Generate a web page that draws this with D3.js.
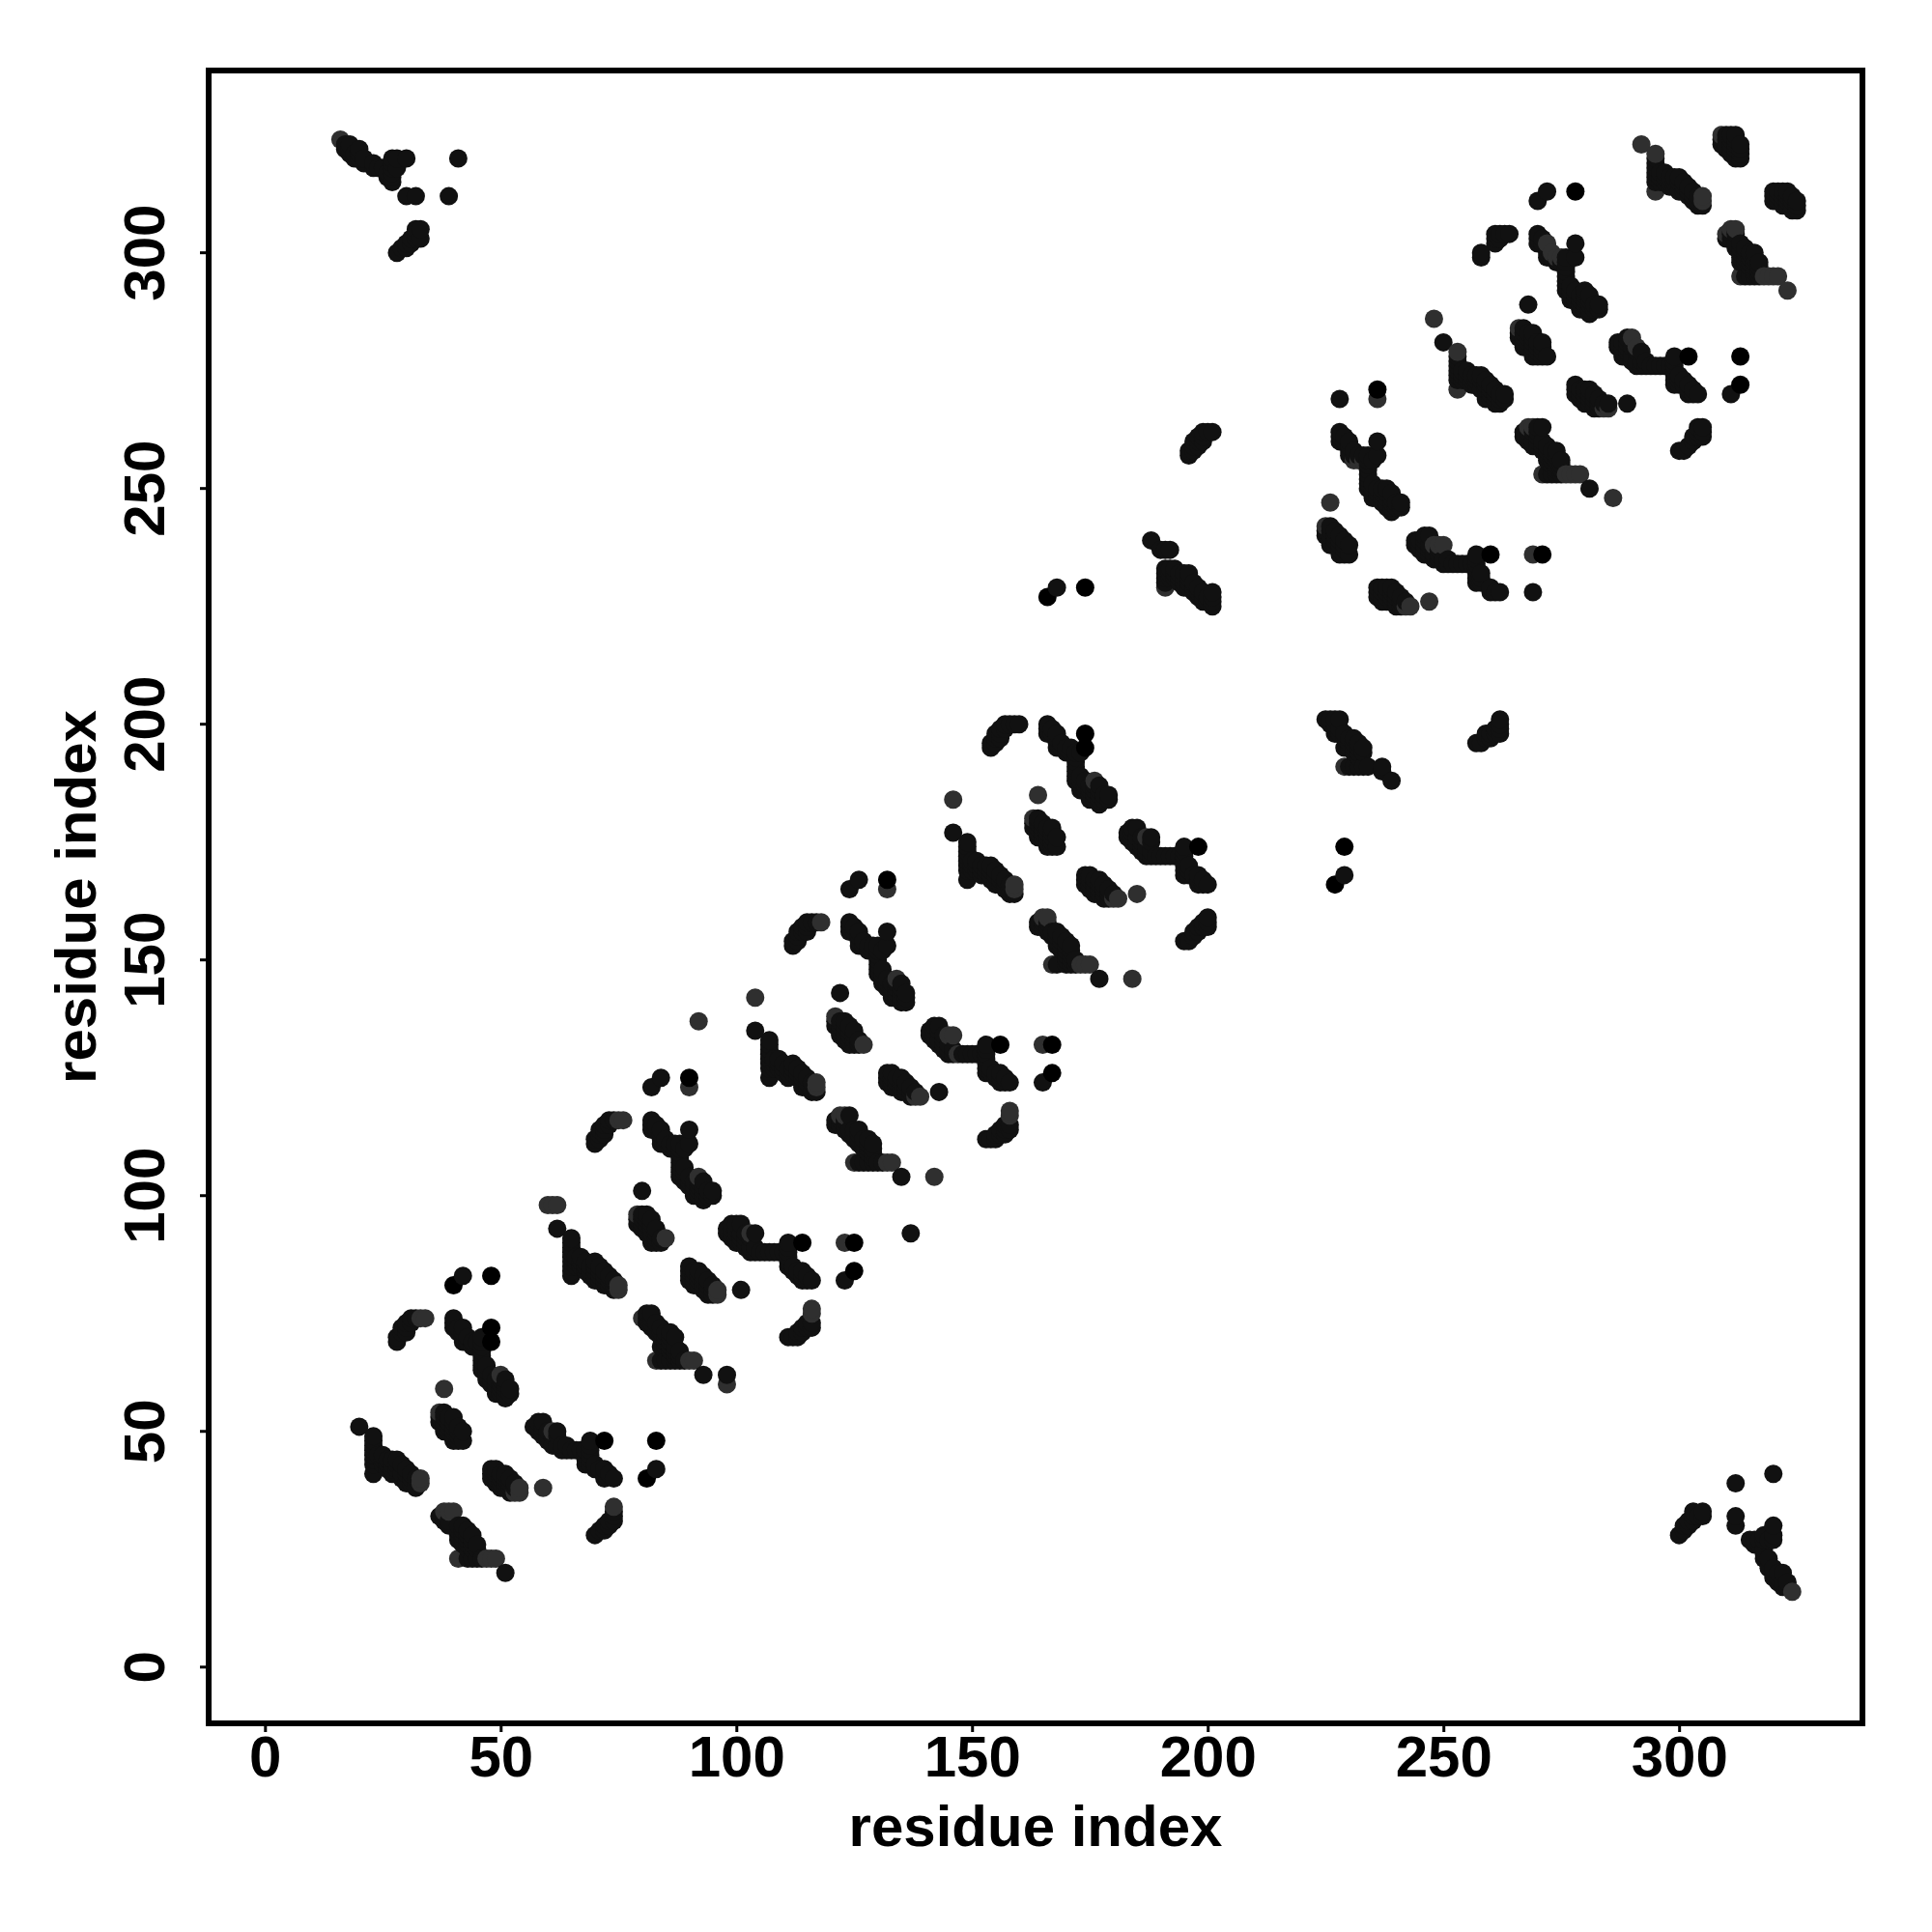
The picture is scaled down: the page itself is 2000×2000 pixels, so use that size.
<!DOCTYPE html>
<html><head><meta charset="utf-8">
<script src="https://cdn.jsdelivr.net/npm/d3@7/dist/d3.min.js"></script>
<style>html,body{margin:0;background:#fff}</style></head>
<body><svg id="c" width="2000" height="2000"></svg>
<script>
const xTickValues=[0,50,100,150,200,250,300];
const yTickValues=[0,50,100,150,200,250,300];
const axisTitle="residue index";
const block1=[[20,51],[23,49],[23,48],[23,47],[23,46],[23,45],[23,44],[23,43],[23,41],[24,45],[25,45],[25,44],[25,43],[26,44],[26,43],[26,42],[27,44],[27,43],[27,42],[27,41],[28,44],[28,43],[28,42],[29,43],[29,41],[29,40],[30,42],[30,41],[30,39],[31,41],[31,40],[31,39],[32,40],[32,38],[33,40],[33,39],
[38,59],[37,54],[37,53],[37,52],[38,54],[38,53],[38,52],[38,51],[38,50],[39,53],[39,52],[39,51],[39,50],[40,53],[40,52],[40,51],[40,50],[40,49],[40,48],[41,51],[41,50],[41,49],[41,48],[42,50],[42,48],
[48,42],[48,41],[48,40],[49,42],[49,41],[49,40],[49,39],[50,41],[50,40],[50,39],[50,38],[51,41],[51,40],[51,39],[51,38],[52,40],[52,39],[52,38],[52,37],[53,39],[53,38],[53,37],[54,38],[54,37],[59,38],
[38,33],[39,33],[40,33],[37,32],[38,32],[38,31],[39,31],[39,30],[41,30],[42,30],[41,29],[42,29],[43,29],[41,28],[42,28],[43,28],[44,28],[41,27],[42,27],[43,27],[44,27],[42,26],[43,26],[44,26],[45,26],[43,25],[44,25],[45,25],[41,23],[43,23],[44,23],[45,23],[46,23],[47,23],[48,23],[49,23],[51,20],
[28,69],[28,70],[29,71],[29,72],[30,71],[30,72],[30,73],[31,73],[31,74],[32,74],[33,74],[34,74]];
const block2=[[40,74],[40,73],[40,72],[41,72],[41,71],[42,72],[42,71],[42,70],[42,69],[43,70],[43,69],[44,69],[44,68],[45,69],[46,70],[46,69],[46,68],[46,67],[46,66],[46,65],[46,64],[46,63],[47,64],[47,63],[47,62],[47,61],[48,72],[48,69],[48,62],[48,61],[48,60],[49,61],[49,60],[49,59],[49,58],[50,62],[50,61],[50,60],[50,59],[50,58],[51,61],[51,60],[51,59],[51,58],[51,57],[52,59],[52,58],[40,81],[42,83],[48,83],
[57,51],[58,52],[58,51],[58,50],[59,52],[59,51],[59,50],[59,49],[60,50],[60,49],[60,48],[61,50],[61,49],[61,47],[62,50],[62,49],[62,47],[63,47],[63,46],[64,47],[64,46],[65,46],[66,46],[67,46],[68,46],[68,45],[68,44],[68,43],[69,48],[69,47],[69,46],[69,45],[69,44],[69,43],[70,43],[70,42],[71,42],[72,48],[72,42],[72,41],[72,40],[73,41],[74,40],[83,48],[83,42],[81,40],
[70,28],[71,29],[72,29],[72,30],[73,30],[73,31],[74,31],[74,32],[74,33],[74,34]];
const block3=[[104,142],[104,135],[107,133],[107,132],[107,131],[107,130],[107,129],[107,128],[107,127],[107,125],[108,129],[108,128],[108,127],[109,129],[109,128],[109,127],[110,128],[110,127],[110,126],[111,127],[111,126],[111,125],[112,128],[112,127],[112,126],[113,127],[113,126],[113,125],[114,126],[114,125],[114,123],[115,125],[115,124],[115,123],[116,124],[116,122],[117,124],[117,123],[117,122],[92,137],
[80,101],[79,96],[79,95],[79,94],[80,96],[80,95],[80,94],[80,93],[81,96],[81,95],[81,94],[81,93],[81,92],[82,95],[82,94],[82,93],[82,92],[82,91],[82,90],[83,93],[83,92],[83,91],[83,90],[84,91],[84,90],[85,91],
[90,85],[90,84],[90,83],[90,82],[91,84],[91,83],[91,82],[91,81],[92,84],[92,83],[92,82],[92,81],[93,83],[93,82],[93,81],[93,80],[94,82],[94,81],[94,80],[94,79],[95,81],[95,80],[95,79],[96,80],[96,79],[101,80],
[80,74],[81,75],[81,74],[81,73],[82,75],[82,74],[82,73],[82,72],[83,73],[83,71],[84,72],[84,71],[84,70],[84,68],[85,71],[85,70],[85,69],[85,68],[86,71],[86,70],[86,69],[86,68],[86,67],[87,70],[87,68],[87,67],[87,66],[88,67],[88,66],[83,65],[84,65],[85,65],[86,65],[87,65],[88,65],[89,65],[90,65],[91,65],[93,62],[98,62],[98,60],
[60,98],[61,98],[62,98],[62,93],[65,91],[65,90],[65,89],[65,88],[65,87],[65,86],[65,85],[65,84],[65,83],[66,87],[66,86],[66,85],[67,87],[67,86],[67,85],[68,86],[68,85],[68,84],[69,85],[69,84],[69,83],[70,86],[70,85],[70,84],[70,83],[70,82],[71,85],[71,84],[71,83],[71,82],[72,84],[72,83],[72,82],[72,81],[73,83],[73,82],[73,81],[74,82],[74,81],[74,80],[75,81],[75,80],
[70,111],[70,112],[71,112],[71,113],[71,114],[72,113],[72,114],[72,115],[73,115],[73,116],[74,116],[75,116],[76,116]];
const block4=[[82,116],[82,115],[82,114],[83,115],[83,114],[84,114],[84,113],[84,112],[84,111],[85,112],[85,111],[86,111],[86,110],[87,111],[87,110],[88,111],[88,110],[88,109],[88,108],[88,107],[88,106],[88,105],[88,104],[89,110],[89,106],[89,105],[89,104],[89,103],[90,114],[90,111],[90,104],[90,103],[90,102],[91,103],[91,102],[91,101],[91,100],[92,104],[92,103],[92,102],[92,101],[92,100],[93,103],[93,102],[93,101],[93,100],[93,99],[94,101],[94,100],[95,101],[95,100],[82,123],[84,125],[90,125],[90,123],
[98,93],[98,92],[99,94],[99,93],[99,92],[99,91],[100,94],[100,93],[100,92],[100,91],[100,90],[101,94],[101,92],[101,91],[101,90],[102,92],[102,91],[102,90],[102,89],[103,92],[103,91],[103,89],[103,88],[104,92],[104,89],[104,88],[105,88],[106,88],[107,88],[108,88],[109,88],[110,88],[111,90],[111,89],[111,88],[111,87],[111,86],[111,85],[112,85],[112,84],[113,84],[113,83],[114,90],[114,84],[114,83],[114,82],[115,83],[115,82],[116,82],[123,90],[125,90],[125,84],[123,82],[137,92],
[111,70],[112,70],[113,70],[113,71],[114,71],[114,72],[115,72],[115,73],[116,72],[116,73],[116,75],[116,76]];
const block5=[[122,143],[121,138],[121,137],[121,136],[122,137],[122,136],[122,135],[122,134],[123,137],[123,136],[123,135],[123,134],[123,133],[124,136],[124,135],[124,134],[124,133],[124,132],[125,135],[125,134],[125,133],[125,132],[126,133],[126,132],[127,132],
[132,126],[132,125],[132,124],[133,126],[133,125],[133,124],[133,123],[134,125],[134,124],[134,123],[135,125],[135,124],[135,123],[135,122],[136,124],[136,123],[136,122],[137,123],[137,122],[137,121],[138,122],[138,121],[139,121],[143,122],
[121,115],[121,116],[122,117],[122,116],[122,115],[123,117],[123,116],[123,115],[123,114],[124,117],[124,114],[124,113],[125,114],[125,113],[125,112],[126,114],[126,113],[126,112],[126,111],[127,112],[127,111],[127,110],[128,112],[128,111],[128,110],[128,109],[129,111],[129,110],[129,109],[129,108],[125,107],[126,107],[127,107],[128,107],[129,107],[130,107],[131,107],[132,107],[133,107],[135,104],[142,104],
[112,153],[112,154],[113,154],[113,155],[113,156],[114,156],[114,157],[115,156],[115,157],[115,158],[116,158],[117,158],[118,158],
[124,158],[124,157],[124,156],[125,157],[125,156],[126,156],[126,155],[126,154],[126,153],[127,154],[127,153],[128,153],[128,152],[129,153],[129,152],[130,153],[130,152],[130,151],[130,150],[130,149],[130,148],[130,147],[131,152],[131,148],[131,147],[131,146],[131,145],[132,156],[132,153],[132,146],[132,145],[132,144],[133,145],[133,144],[133,143],[133,142],[134,146],[134,145],[134,144],[134,143],[134,142],[135,145],[135,144],[135,143],[135,142],[135,141],[136,143],[136,142],[136,141],[124,165],[126,167],[132,167],[132,165]];
const block6=[[141,135],[141,134],[142,136],[142,135],[142,134],[142,133],[143,136],[143,135],[143,133],[143,132],[144,134],[144,133],[144,132],[144,131],[145,134],[145,132],[145,131],[145,130],[146,134],[146,131],[146,130],[147,130],[148,130],[149,130],[150,130],[151,130],[152,130],[153,132],[153,131],[153,130],[153,129],[153,128],[153,127],[153,126],[154,127],[154,126],[155,126],[155,125],[156,132],[156,126],[156,125],[156,124],[157,125],[157,124],[158,124],[165,132],[167,132],[167,126],[165,124],
[153,112],[154,112],[155,112],[155,113],[156,113],[156,114],[157,113],[157,114],[157,115],[158,114],[158,115],[158,117],[158,118],
[146,184],[146,177],[149,175],[149,174],[149,173],[149,172],[149,171],[149,170],[149,169],[149,167],[150,171],[150,170],[150,169],[151,171],[151,170],[151,169],[152,170],[152,169],[152,168],[153,170],[153,169],[153,168],[154,170],[154,169],[154,168],[154,167],[155,169],[155,168],[155,166],[156,168],[156,167],[156,166],[157,167],[157,166],[157,165],[158,166],[158,165],[158,164],[159,166],[159,165],[159,164],
[164,185],[163,180],[163,179],[163,178],[164,180],[164,179],[164,178],[164,177],[164,176],[165,179],[165,178],[165,177],[165,176],[166,178],[166,177],[166,176],[166,175],[166,174],[167,178],[167,177],[167,176],[167,175],[167,174],[168,176],[168,174],
[174,168],[174,167],[174,166],[175,168],[175,167],[175,166],[175,165],[176,167],[176,166],[176,165],[176,164],[177,167],[177,166],[177,165],[177,164],[178,166],[178,165],[178,164],[178,163],[179,165],[179,164],[179,163],[180,164],[180,163],[181,163],[185,164]];
const block7=[[164,158],[164,157],[165,159],[165,158],[165,157],[166,159],[166,158],[166,157],[166,156],[167,156],[167,155],[168,156],[168,155],[168,154],[168,153],[167,149],[168,149],[169,155],[169,154],[169,153],[169,152],[170,154],[170,153],[170,152],[170,151],[170,150],[171,153],[171,152],[171,151],[171,150],[172,150],[172,149],[170,149],[171,149],[173,149],[174,149],[175,149],[177,146],[184,146],
[183,177],[183,176],[184,178],[184,177],[184,176],[184,175],[185,178],[185,176],[185,175],[185,174],[186,176],[186,175],[186,174],[186,173],[187,176],[187,174],[187,173],[187,172],[188,176],[188,175],[188,173],[188,172],[189,172],[190,172],[191,172],[192,172],[193,172],[194,172],[195,174],[195,173],[195,172],[195,171],[195,170],[195,169],[195,168],[196,170],[196,169],[196,168],[197,168],[198,174],[198,168],[198,167],[198,166],[199,167],[199,166],[200,166],
[195,154],[196,154],[197,155],[197,156],[198,156],[198,157],[199,157],[199,158],[200,157],[200,158],[200,159],
[154,195],[154,196],[155,196],[155,197],[155,198],[156,197],[156,198],[156,199],[157,199],[157,200],[158,200],[159,200],[160,200],
[166,200],[166,199],[166,198],[167,199],[167,198],[168,198],[168,197],[168,196],[168,195],[169,196],[169,195],[170,195],[170,194],[171,195],[171,194],[172,194],[172,193],[172,192],[172,191],[172,190],[172,189],[172,188],[173,194],[173,189],[173,188],[173,187],[173,186],[174,198],[174,195],[174,188],[174,187],[174,186],[175,187],[175,186],[175,185],[175,184],[176,188],[176,187],[176,186],[176,185],[176,184],[177,187],[177,186],[177,185],[177,184],[177,183],[178,185],[178,184],[179,185],[179,184]];
const block8=[[166,227],[168,229],[174,229],[188,239],[190,237],[191,237],[192,237],[191,233],[191,232],[191,231],[191,230],[191,229],[192,233],[192,232],[192,231],[193,233],[193,232],[193,231],[194,232],[194,231],[194,230],[195,232],[195,231],[195,230],[195,229],[196,232],[196,231],[196,230],[196,229],[197,230],[197,229],[197,228],[198,229],[198,228],[198,227],[199,228],[199,227],[199,226],[200,227],[200,226],[201,228],[201,227],[201,226],[201,225],
[196,257],[196,258],[197,258],[197,259],[197,260],[198,259],[198,260],[198,261],[199,260],[199,261],[199,262],[200,262],[201,262],
[228,269],[236,271],[236,269],[228,262],[228,261],[228,260],[229,261],[229,260],[230,260],[230,259],[230,258],[230,257],[231,258],[231,257],[231,256],[232,257],[232,256],[233,257],[233,256],[234,257],[234,256],[234,255],[234,254],[234,253],[234,252],[234,251],[234,250],[235,256],[235,251],[235,250],[235,249],[235,248],[236,260],[236,257],[236,250],[236,249],[236,248],[237,250],[237,249],[237,248],[237,247],[238,250],[238,249],[238,248],[238,247],[238,246],[239,249],[239,248],[239,247],[239,246],[239,245],[240,247],[240,246],[241,247],[241,246],
[226,247],[225,242],[225,241],[225,240],[226,242],[226,241],[226,240],[226,239],[226,238],[227,241],[227,240],[227,239],[227,238],[228,240],[228,239],[228,238],[228,237],[228,236],[229,239],[229,238],[229,237],[229,236],[230,238],[230,236],
[236,229],[236,228],[236,227],[237,229],[237,228],[237,227],[237,226],[238,229],[238,228],[238,227],[238,226],[239,229],[239,228],[239,227],[239,226],[240,228],[240,227],[240,226],[240,225],[241,227],[241,226],[241,225],[242,226],[242,225],[243,225],[247,226]];
const block9=[[244,239],[244,238],[245,239],[245,238],[245,237],[246,240],[246,239],[246,238],[246,237],[246,236],[247,240],[247,238],[247,237],[247,236],[248,238],[248,236],[248,235],[249,238],[249,237],[249,236],[249,235],[250,238],[250,235],[250,234],[251,235],[251,234],[252,234],[253,234],[254,234],[255,234],[256,234],[257,236],[257,235],[257,234],[257,233],[257,232],[257,231],[257,230],[258,232],[258,231],[258,230],[260,236],[260,229],[260,228],[261,228],[262,228],[269,236],[271,236],[269,228],
[248,286],[250,281],[253,279],[253,278],[253,277],[253,276],[253,275],[253,274],[253,273],[253,271],[254,275],[254,274],[254,273],[255,275],[255,274],[255,273],[256,274],[256,273],[256,272],[257,274],[257,273],[257,272],[258,274],[258,273],[258,271],[259,273],[259,272],[259,271],[259,269],[260,272],[260,271],[260,270],[260,269],[261,271],[261,270],[261,269],[261,268],[262,270],[262,269],[262,268],[263,270],[263,269],
[267,262],[267,261],[268,263],[268,262],[268,261],[268,260],[269,263],[269,262],[269,260],[269,259],[270,263],[270,262],[270,261],[270,260],[270,259],[271,263],[271,260],[271,259],[271,258],[272,259],[272,258],[272,257],[272,256],[273,258],[273,257],[273,256],[273,255],[274,258],[274,257],[274,256],[274,255],[274,254],[275,256],[275,255],[275,254],[271,253],[272,253],[273,253],[274,253],[275,253],[276,253],[277,253],[278,253],[279,253],[281,250],[286,248],
[292,323],[295,321],[295,320],[295,319],[295,318],[295,317],[295,316],[295,315],[295,313],[296,317],[296,316],[296,315],[297,317],[297,316],[297,315],[298,316],[298,315],[298,314],[299,316],[299,315],[299,314],[300,316],[300,315],[300,313],[301,315],[301,314],[301,313],[302,314],[302,313],[302,312],[303,313],[303,312],[303,311],[304,312],[304,311],[304,310],[305,312],[305,311],[305,310]];
const block10=[[309,325],[309,324],[309,323],[310,325],[310,324],[310,323],[310,322],[311,325],[311,324],[311,323],[311,322],[311,321],[312,325],[312,324],[312,323],[312,322],[312,321],[312,320],[313,323],[313,322],[313,321],[313,320],
[320,313],[320,312],[320,311],[321,313],[321,312],[321,311],[322,313],[322,312],[322,311],[322,310],[323,313],[323,312],[323,311],[323,310],[324,312],[324,311],[324,310],[324,309],[325,311],[325,310],[325,309],
[310,304],[310,303],[311,305],[311,304],[311,303],[312,305],[312,304],[312,302],[312,301],[313,302],[313,301],[313,300],[313,299],[313,298],[314,301],[314,300],[314,299],[314,298],[315,300],[315,299],[315,298],[315,297],[316,300],[316,299],[316,298],[316,297],[316,296],[317,298],[317,297],[317,296],[313,295],[314,295],[315,295],[316,295],[317,295],[318,295],[319,295],[320,295],[321,295],[323,292],
[272,313],[270,311],[278,313],[258,299],[258,300],[261,302],[261,303],[261,304],[262,303],[262,304],[263,304],[264,304],
[270,304],[270,303],[270,302],[271,303],[271,302],[272,302],[272,301],[272,300],[272,299],[273,300],[273,299],[274,299],[274,298],[275,299],[275,298],[276,299],[276,298],[276,297],[276,296],[276,295],[276,294],[276,293],[276,292],[277,293],[277,292],[277,291],[277,290],[278,302],[278,299],[278,292],[278,291],[278,290],[279,291],[279,290],[279,289],[279,288],[280,292],[280,291],[280,290],[280,289],[280,288],[281,291],[281,290],[281,289],[281,288],[281,287],[282,289],[282,288],[283,289],[283,288]];
const block11=[[268,289],[266,284],[266,283],[266,282],[267,284],[267,283],[267,282],[267,281],[267,280],[268,283],[268,282],[268,281],[268,280],[269,283],[269,282],[269,281],[269,280],[269,279],[269,278],[270,281],[270,280],[270,279],[270,278],[271,281],[271,280],[271,279],[271,278],[272,278],
[278,272],[278,271],[278,270],[279,271],[279,270],[279,269],[280,271],[280,270],[280,269],[280,268],[281,271],[281,270],[281,269],[281,268],[282,270],[282,269],[282,268],[282,267],[283,269],[283,268],[283,267],[284,268],[284,267],[285,268],[285,267],[289,268],
[287,281],[287,280],[288,281],[288,280],[288,279],[288,278],[289,282],[289,281],[289,280],[289,279],[290,282],[290,280],[290,278],[290,277],[291,280],[291,279],[291,277],[291,276],[292,279],[292,277],[292,276],[293,277],[293,276],[294,276],[295,276],[296,276],[297,276],[298,276],[299,278],[299,277],[299,276],[299,275],[299,274],[299,273],[299,272],[300,274],[300,273],[300,272],[301,273],[301,272],[302,278],[302,272],[302,271],[302,270],[303,271],[303,270],[304,270],[313,278],[313,272],[311,270],
[300,258],[301,258],[302,259],[303,260],[303,261],[304,261],[304,262],[304,263],[305,261],[305,262],[305,263],
[227,166],[229,168],[229,174],
[225,201],[226,201],[227,201],[226,200],[227,200],[227,199],[227,198],[228,201],[228,199],[228,198],[229,198],[229,197],[229,195],[230,197],[230,196],[230,195],[231,197],[231,196],[231,195],[231,194],[232,196],[232,195],[232,194],[232,193],[233,195],[233,194],[229,191],[230,191],[231,191],[232,191],[233,191],[234,191],[237,191],[237,190],[239,188],
[257,196],[258,196],[259,197],[259,198],[260,197],[260,198],[261,198],[261,199],[262,199],[262,198],[262,200],[262,201]];
const cornerTopLeft=[[16,324],[17,323],[17,322],[18,323],[18,322],[18,321],[19,321],[19,320],[20,322],[20,321],[20,320],[21,320],[21,319],[23,319],[23,318],[24,318],[25,318],[26,317],[26,316],[27,320],[27,319],[27,318],[27,317],[27,316],[27,315],[28,318],[28,320],[30,320],[30,312],[32,312],[39,312],[41,320],[28,300],[29,301],[30,301],[30,302],[31,302],[31,303],[32,303],[32,304],[32,305],[33,303],[33,305]];
const cornerBottomRight=[[324,16],[323,17],[322,17],[323,18],[322,18],[321,18],[321,19],[320,19],[322,20],[321,20],[320,20],[320,21],[319,21],[319,23],[318,23],[318,24],[318,25],[317,26],[316,26],[320,27],[319,27],[318,27],[317,27],[316,27],[315,27],[318,28],[320,28],[320,30],[312,30],[312,32],[312,39],[320,41],[300,28],[301,29],[301,30],[302,30],[302,31],[303,31],[303,32],[304,32],[305,32],[303,33],[305,33]];
const faintContacts=[[38,59],[59,38],[92,137],[104,142],[146,184],[164,185],[226,247],[247,226],[286,248],[185,164],[184,146],[142,104],[98,60],[60,98],[61,98],[62,98],[90,123],[132,165],[236,269],[123,90],[269,236],[165,132],[34,74],[33,74],[76,116],[75,116],[118,158],[54,37],[33,40],[33,39],[75,81],[75,80],[117,123],[117,124],[159,165],[159,166],[96,79],[96,80],[50,62],[92,104],[134,146],[176,188],[61,50],[103,92],[145,134],[187,176],[248,286],[116,76],[116,75],[74,34],[158,118],[158,117],[37,54],[79,96],[121,138],[163,180],[225,242],[266,284],[85,91],[127,132],[38,33],[39,33],[40,33],[80,74],[122,117],[123,117],[165,159],[166,159],[292,323],[295,321],[295,313],[305,312],[305,311],[323,292],[321,295],[320,295],[319,295],[318,295],[49,23],[48,23],[47,23],[91,65],[90,65],[133,107],[132,107],[175,149],[174,149],[173,149],[41,23],[83,65],[125,107],[167,149],[229,191],[271,253],[313,295],[53,37],[54,38],[138,121],[139,121],[180,163],[181,163],[243,225],[242,225],[284,267],[285,267],[16,324],[324,16],[268,263],[269,263],[309,325],[310,304],[311,305],[312,305],[278,253],[279,253],[277,253],[276,253],[233,256],[232,256],[231,256],[272,302],[273,300],[274,299],[275,299],[290,282],[291,280],[248,238],[249,238],[250,238],[147,130],[146,134],[191,229],[253,279],[253,271]];
const blackContacts=[[48,83],[83,48],[48,72],[48,69],[40,81],[81,40],[90,125],[132,167],[174,198],[174,195],[236,271],[278,313],[271,236],[167,132],[167,126],[125,90],[125,84],[72,48],[114,90],[156,132],[198,174],[260,236],[302,278],[313,278],[313,272],[229,174],[174,229],[166,227],[227,166]];

const allContacts=d3.merge([block1,block2,block3,block4,block5,block6,block7,block8,block9,block10,block11,cornerTopLeft,cornerBottomRight]);
const key=p=>p[0]+","+p[1];
const faintSet=new Set(faintContacts.map(key));
const blackSet=new Set(blackContacts.map(key));
const ordered=allContacts.slice().sort((a,b)=>d3.ascending(a[0],b[0])||d3.ascending(a[1],b[1]));

const L=216,R=1928,T=73,B=1784;
const x=d3.scaleLinear().domain([-11.95,338.9]).range([L,R]);
const y=d3.scaleLinear().domain([-11.93,338.66]).range([B,T]);
const shade=d3.scaleLinear().domain([1,2,3]).range(["#2f2f2f","#111111","#000000"]);
const svg=d3.select("#c");
const font="'Liberation Sans',Arial,sans-serif";

svg.append("g").selectAll("circle").data(ordered).join("circle")
  .attr("cx",d=>x(d[0])).attr("cy",d=>y(d[1])).attr("r",9.5)
  .attr("fill",d=>shade(faintSet.has(key(d))?1:blackSet.has(key(d))?3:2));

const gx=svg.append("g").attr("transform",`translate(0,${B})`)
  .call(d3.axisBottom(x).tickValues(xTickValues).tickSize(9).tickPadding(0));
const gy=svg.append("g").attr("transform",`translate(${L},0)`)
  .call(d3.axisLeft(y).tickValues(yTickValues).tickSize(9).tickPadding(0));
[gx,gy].forEach(g=>{g.select(".domain").remove();
  g.selectAll("line").attr("stroke","#000").attr("stroke-width",3);
  g.selectAll("text").attr("font-family",font).attr("font-weight","bold").attr("font-size",60).attr("fill","#000");});
gx.selectAll("text").attr("dy",null).attr("y",55).attr("text-anchor","middle");
gy.selectAll("text").attr("dy",null).attr("x",null)
  .attr("transform",function(d){return `translate(-46,${y(d)}) rotate(-90)`}).attr("y",0)
  .attr("text-anchor","middle");
gy.selectAll("g.tick").attr("transform",null);
gy.selectAll("g.tick line").attr("transform",d=>`translate(0,${y(d)})`);

svg.append("rect").attr("x",L).attr("y",T).attr("width",R-L).attr("height",B-T)
  .attr("fill","none").attr("stroke","#000").attr("stroke-width",6);

svg.append("text").attr("x",(L+R)/2).attr("y",1911).attr("text-anchor","middle")
  .attr("font-family",font).attr("font-weight","bold").attr("font-size",60).text(axisTitle);
svg.append("text").attr("transform",`translate(99,${(T+B)/2}) rotate(-90)`).attr("text-anchor","middle")
  .attr("font-family",font).attr("font-weight","bold").attr("font-size",60).text(axisTitle);
</script></body></html>
